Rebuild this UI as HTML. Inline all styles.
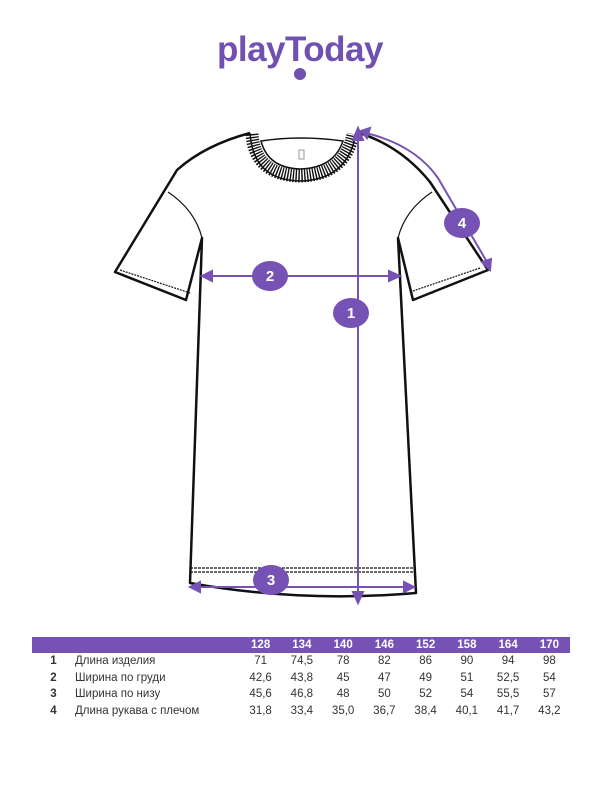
<!DOCTYPE html>
<html><head><meta charset="utf-8"><style>
body{margin:0;background:#fff;width:600px;height:800px;position:relative;overflow:hidden;font-family:"Liberation Sans","DejaVu Sans",sans-serif}
.logo{position:absolute;left:0;width:600px;top:30px;text-align:center;font-size:35px;font-weight:bold;color:#7050b0;letter-spacing:-0.5px}
table{position:absolute;left:32px;top:637px;width:538px;border-collapse:collapse;font-size:11.5px;color:#333}
td{height:16.5px;padding:0;text-align:center}
tr.h td{background:#7652b4;color:#fff;font-weight:bold;height:16px}
td.n{width:43px;text-align:center;font-weight:bold}
td.l{text-align:left;width:165px}
</style></head><body>
<div class="logo">playToday</div>
<svg width="600" height="800" style="position:absolute;left:0;top:0">
<circle cx="300" cy="74" r="6" fill="#7050b0"/>
<g fill="none" stroke="#111" stroke-width="2.5" stroke-linejoin="round">
<path d="M250,133 Q205,145 177,170 L115,272 L186,300 L202,238 L190,583 Q300,603 416,593 L398,238 L413,300 L488,270 L430,182 Q400,145 356,132"/>
</g>
<g fill="none" stroke="#111" stroke-width="1.2">
<path d="M168,192 Q195,210 202,238"/><path d="M432,192 Q405,210 398,238"/>
<path d="M120,270 L190,293" stroke-dasharray="2 1"/><path d="M480,268 L410,292" stroke-dasharray="2 1"/>
<path d="M190,568 L414,568" stroke-dasharray="3 1"/><path d="M190,572 L414,572" stroke-dasharray="3 1"/>
</g>
<path d="M252,134 Q255,175 300,176 Q345,175 353,134" fill="none" stroke="#111" stroke-width="13" stroke-dasharray="1.4 1.4"/>
<path d="M250,133 Q253,180 300,181 Q348,180 356,133" fill="none" stroke="#111" stroke-width="1.5"/>
<path d="M261,141 Q268,168 300,169 Q334,168 343,141 Q300,135 261,141 Z" fill="#fff" stroke="#111" stroke-width="1.5"/>
<rect x="299" y="150" width="5" height="9" fill="none" stroke="#999"/>
<g stroke="#7652b4" stroke-width="2" fill="#7652b4">
<line x1="358" y1="138" x2="358" y2="595"/>
<path d="M353,140 L358,128 L363,140Z M353,592 L358,603 L363,592Z"/>
<line x1="208" y1="276" x2="393" y2="276"/>
<path d="M212,271 L202,276 L212,281Z M389,271 L400,276 L389,281Z"/>
<line x1="196" y1="587" x2="408" y2="587"/>
<path d="M200,582 L190,587 L200,592Z M404,582 L414,587 L404,592Z"/>
<path d="M366,133 Q415,145 438,178 L487,262" fill="none"/>
<path d="M370,128 L361,131 L367,138Z M482,262 L490,270 L491,259Z"/>
</g>
<g fill="#7652b4"><ellipse cx="270" cy="276" rx="18" ry="15"/><ellipse cx="351" cy="313" rx="18" ry="15"/><ellipse cx="271" cy="580" rx="18" ry="15"/><ellipse cx="462" cy="223" rx="18" ry="15"/></g>
<g fill="#fff" font-size="15" font-weight="bold" text-anchor="middle" font-family="Liberation Sans,sans-serif">
<text x="270" y="281">2</text><text x="351" y="318">1</text><text x="271" y="585">3</text><text x="462" y="228">4</text></g>
</svg>
<table>
<tr class="h"><td class="n"></td><td class="l"></td><td>128</td><td>134</td><td>140</td><td>146</td><td>152</td><td>158</td><td>164</td><td>170</td></tr>
<tr><td class="n">1</td><td class="l">Длина изделия</td><td>71</td><td>74,5</td><td>78</td><td>82</td><td>86</td><td>90</td><td>94</td><td>98</td></tr>
<tr><td class="n">2</td><td class="l">Ширина по груди</td><td>42,6</td><td>43,8</td><td>45</td><td>47</td><td>49</td><td>51</td><td>52,5</td><td>54</td></tr>
<tr><td class="n">3</td><td class="l">Ширина по низу</td><td>45,6</td><td>46,8</td><td>48</td><td>50</td><td>52</td><td>54</td><td>55,5</td><td>57</td></tr>
<tr><td class="n">4</td><td class="l">Длина рукава с плечом</td><td>31,8</td><td>33,4</td><td>35,0</td><td>36,7</td><td>38,4</td><td>40,1</td><td>41,7</td><td>43,2</td></tr>
</table>
</body></html>
